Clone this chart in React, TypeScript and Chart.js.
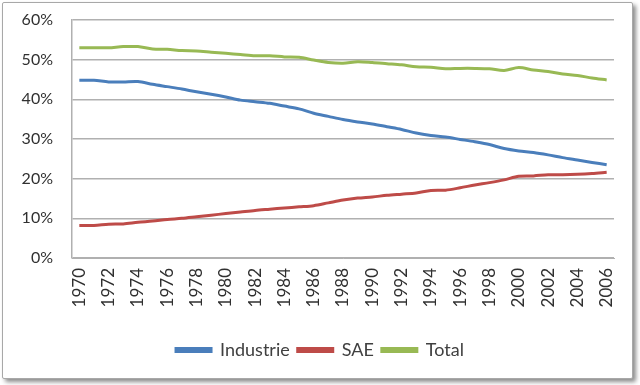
import React, { useEffect, useRef } from "react";
import { Chart, registerables } from "chart.js";

Chart.register(...registerables);

const years: string[] = [];
for (let y = 1970; y <= 2006; y++) years.push(String(y));

const industrie = [
  44.8, 44.8, 44.4, 44.4, 44.5, 43.8, 43.2, 42.6, 41.9, 41.3,
  40.6, 39.8, 39.4, 39.0, 38.3, 37.6, 36.5, 35.7, 34.9, 34.3,
  33.8, 33.1, 32.4, 31.5, 30.9, 30.5, 29.9, 29.3, 28.6, 27.6,
  27.0, 26.6, 26.0, 25.3, 24.7, 24.1, 23.5,
];
const sae = [
  8.2, 8.2, 8.5, 8.6, 9.0, 9.3, 9.7, 10.0, 10.4, 10.8,
  11.2, 11.6, 12.0, 12.3, 12.6, 12.9, 13.2, 13.9, 14.6, 15.1,
  15.4, 15.8, 16.1, 16.4, 17.0, 17.1, 17.7, 18.4, 19.0, 19.7,
  20.6, 20.7, 21.0, 21.0, 21.1, 21.3, 21.6,
];
const total = [
  53.0, 53.0, 53.0, 53.3, 53.3, 52.7, 52.6, 52.3, 52.2, 51.9,
  51.6, 51.3, 51.0, 51.0, 50.7, 50.6, 49.9, 49.3, 49.1, 49.5,
  49.3, 49.0, 48.7, 48.2, 48.1, 47.7, 47.8, 47.8, 47.7, 47.3,
  48.0, 47.4, 47.0, 46.4, 46.0, 45.4, 44.9,
];
const seriesNames = ["Industrie", "SAE", "Total"];
const yTicks = [0, 10, 20, 30, 40, 50, 60];

const FONT = "Lato, 'Open Sans', sans-serif";

const legendShift = {
  id: "legendShift",
  afterLayout(chart: any) {
    if (chart.legend) {
      chart.legend.left += 13;
      chart.legend.right += 13;
    }
  },
};

export default function App() {
  const ref = useRef<HTMLCanvasElement | null>(null);
  useEffect(() => {
    document.body.style.margin = "0";
    const ctx = ref.current!;
    const colors = ["#4a7ebb", "#be4b48", "#98b954"];
    const data = [industrie, sae, total];
    const chart = new Chart(ctx, {
      type: "line",
      data: {
        labels: years,
        datasets: seriesNames.map((n, i) => ({
          label: n,
          data: data[i],
          borderColor: colors[i],
          backgroundColor: colors[i],
          borderWidth: 3,
          pointRadius: 0,
          tension: 0.3,
        })),
      },
      plugins: [legendShift],
      options: {
        animation: false,
        responsive: false,
        layout: { padding: { top: 20, right: 26, bottom: 16, left: 0 } },
        plugins: {
          tooltip: { enabled: false },
          legend: {
            position: "bottom",
            labels: {
              boxWidth: 35,
              boxHeight: 3,
              padding: 8,
              color: "#404040",
              font: { family: FONT, size: 18 },
            },
          },
        },
        scales: {
          x: {
            offset: true,
            grid: { display: false, drawTicks: false },
            border: { display: true, color: "#b0b0b0", width: 1 },
            ticks: {
              autoSkip: false,
              minRotation: 90,
              maxRotation: 90,
              padding: 10,
              color: "#303030",
              font: { family: FONT, size: 17 },
              callback: (_v: any, i: number) => (i % 2 === 0 ? years[i] : ""),
            },
            afterFit: (s: any) => {
              s.height = 75;
            },
          },
          y: {
            min: 0,
            max: 60,
            afterBuildTicks: (s: any) => {
              s.ticks = yTicks.map((v) => ({ value: v }));
            },
            grid: {
              color: "#b0b0b0",
              lineWidth: 1.5,
              drawTicks: true,
              tickLength: 15,
              tickColor: "rgba(0,0,0,0)",
            },
            border: { display: true, color: "#b0b0b0", width: 1.5 },
            ticks: {
              padding: 4,
              color: "#303030",
              font: { family: FONT, size: 16 },
              callback: (v: any) => v + "%",
            },
            afterFit: (s: any) => {
              s.width = 72;
            },
          },
        },
      },
    });
    return () => chart.destroy();
  }, []);
  return (
    <div
      style={{
        position: "fixed",
        left: 0,
        top: 0,
        width: 640,
        height: 385,
        background: "#fff",
      }}
    >
      <div
        style={{
          position: "absolute",
          left: 2,
          top: 2,
          width: 629,
          height: 375,
          border: "1px solid #a8a8a8",
          borderRadius: 2,
          boxShadow: "3px 3px 4px rgba(0,0,0,0.45)",
          background: "#fff",
        }}
      />
      <canvas
        ref={ref}
        width={640}
        height={385}
        style={{ position: "absolute", left: 0, top: 0 }}
      />
    </div>
  );
}
